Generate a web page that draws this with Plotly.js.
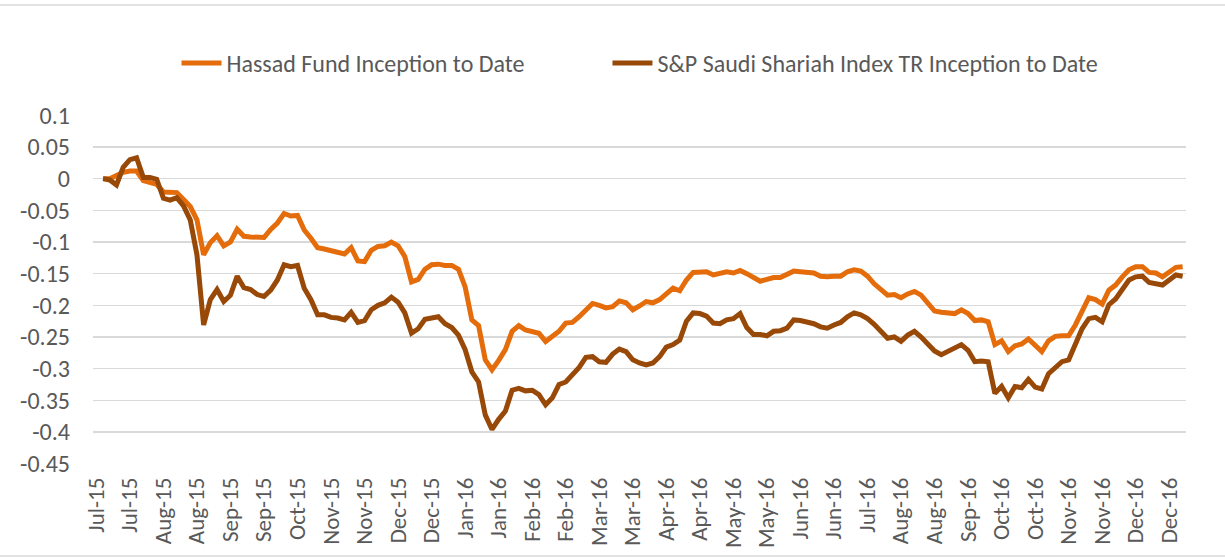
<!DOCTYPE html>
<html>
<head>
<meta charset="utf-8">
<script src="https://cdn.plot.ly/plotly-3.0.1.min.js"></script>
<style>
  html, body { margin: 0; padding: 0; background: #ffffff; }
  #chart { width: 1225px; height: 559px; }
</style>
</head>
<body>
<div id="chart"></div>
<script>
// Category tick labels (one label every 5 categories)
const tickLabels = ["Jul-15","Jul-15","Aug-15","Aug-15","Sep-15","Sep-15","Oct-15","Nov-15","Nov-15","Dec-15","Dec-15",
  "Jan-16","Jan-16","Feb-16","Feb-16","Mar-16","Mar-16","Apr-16","Apr-16","May-16","May-16","Jun-16","Jun-16",
  "Jul-16","Aug-16","Aug-16","Sep-16","Oct-16","Oct-16","Nov-16","Nov-16","Dec-16","Dec-16"];
const labelStep = 5;
const categoryCount = 163;

// Series values (first category empty)
const hassad = [null,
  0, 0, 0.005, 0.01, 0.012, 0.012, -0.003, -0.006, -0.009, -0.021,
  -0.022, -0.022, -0.033, -0.044, -0.065, -0.12, -0.101, -0.09, -0.106, -0.1,
  -0.08, -0.091, -0.092, -0.092, -0.093, -0.08, -0.07, -0.055, -0.059, -0.058,
  -0.081, -0.094, -0.109, -0.111, -0.113, -0.115, -0.119, -0.109, -0.13, -0.131,
  -0.113, -0.107, -0.106, -0.1, -0.106, -0.123, -0.163, -0.159, -0.143, -0.136,
  -0.135, -0.137, -0.137, -0.143, -0.171, -0.223, -0.232, -0.286, -0.302, -0.287,
  -0.27, -0.241, -0.232, -0.239, -0.241, -0.244, -0.257, -0.249, -0.241, -0.228,
  -0.227, -0.218, -0.208, -0.197, -0.2, -0.204, -0.202, -0.193, -0.196, -0.207,
  -0.201, -0.194, -0.196, -0.191, -0.182, -0.173, -0.177, -0.16, -0.148, -0.148,
  -0.147, -0.152, -0.15, -0.147, -0.149, -0.145, -0.15, -0.155, -0.162, -0.159,
  -0.156, -0.156, -0.152, -0.146, -0.147, -0.148, -0.149, -0.154, -0.155, -0.154,
  -0.154, -0.147, -0.144, -0.146, -0.154, -0.166, -0.174, -0.184, -0.183, -0.188,
  -0.182, -0.178, -0.184, -0.198, -0.209, -0.211, -0.213, -0.213, -0.207, -0.213,
  -0.224, -0.223, -0.226, -0.262, -0.256, -0.273, -0.264, -0.261, -0.253, -0.263,
  -0.273, -0.256, -0.249, -0.248, -0.248, -0.231, -0.21, -0.188, -0.191, -0.198,
  -0.176, -0.168, -0.155, -0.144, -0.139, -0.139, -0.148, -0.149, -0.155, -0.148,
  -0.14, -0.139];

const spShariah = [null,
  0, -0.002, -0.01, 0.018, 0.03, 0.033, 0.002, 0.002, -0.001, -0.031,
  -0.034, -0.03, -0.043, -0.065, -0.12, -0.231, -0.191, -0.175, -0.194, -0.184,
  -0.154, -0.172, -0.175, -0.183, -0.186, -0.176, -0.16, -0.136, -0.139, -0.137,
  -0.173, -0.191, -0.215, -0.215, -0.219, -0.22, -0.223, -0.211, -0.227, -0.224,
  -0.207, -0.2, -0.196, -0.187, -0.195, -0.212, -0.244, -0.237, -0.222, -0.219,
  -0.218, -0.229, -0.235, -0.247, -0.27, -0.305, -0.321, -0.373, -0.396, -0.38,
  -0.367, -0.334, -0.331, -0.335, -0.334, -0.341, -0.357, -0.346, -0.325, -0.321,
  -0.31, -0.298, -0.282, -0.281, -0.289, -0.29, -0.277, -0.269, -0.273, -0.286,
  -0.291, -0.294, -0.291, -0.281, -0.266, -0.262, -0.255, -0.225, -0.212, -0.213,
  -0.217, -0.228, -0.229, -0.223, -0.221, -0.213, -0.235, -0.246, -0.246, -0.248,
  -0.241, -0.24, -0.236, -0.223, -0.224, -0.226, -0.229, -0.234, -0.236, -0.231,
  -0.227, -0.218, -0.212, -0.215, -0.221, -0.23, -0.241, -0.252, -0.25, -0.257,
  -0.247, -0.241, -0.25, -0.262, -0.272, -0.278, -0.272, -0.268, -0.262, -0.271,
  -0.289, -0.288, -0.289, -0.339, -0.328, -0.346, -0.328, -0.33, -0.317, -0.329,
  -0.332, -0.308, -0.298, -0.289, -0.286, -0.262, -0.237, -0.221, -0.219, -0.226,
  -0.199, -0.19, -0.176, -0.16, -0.155, -0.154, -0.164, -0.167, -0.168, -0.16,
  -0.152, -0.154];

const yTickVals = [0.1, 0.05, 0, -0.05, -0.1, -0.15, -0.2, -0.25, -0.3, -0.35, -0.4, -0.45];
const yTickText = ["0.1", "0.05", "0", "-0.05", "-0.1", "-0.15", "-0.2", "-0.25", "-0.3", "-0.35", "-0.4", "-0.45"];

const seriesNames = ["Hassad Fund Inception to Date", "S&P Saudi Shariah Index TR Inception to Date"];

const xIdx = Array.from({length: categoryCount}, (_, i) => i);
const tickVals = tickLabels.map((_, k) => k * labelStep);

const FONT = "Carlito, Calibri, Lato, sans-serif";
const GRID = "#d9d9d9";
const yMin = -0.45, yMax = 0.1;
const xRange = [-0.5, categoryCount - 0.5];

const traces = [
  {x: xIdx, y: hassad, name: seriesNames[0], type: "scatter", mode: "lines",
   line: {color: "#E46C0A", width: 5}, connectgaps: false, legend: "legend"},
  {x: xIdx, y: spShariah, name: seriesNames[1], type: "scatter", mode: "lines",
   line: {color: "#984807", width: 5}, connectgaps: false, legend: "legend2"}
];

const zeroPos = (0 - yMin) / (yMax - yMin);
const legendFont = {family: FONT, size: 24, color: "#595959"};

const layout = {
  width: 1225, height: 559,
  margin: {l: 93, r: 39, t: 115, b: 95, pad: 0},
  paper_bgcolor: "#ffffff", plot_bgcolor: "#ffffff",
  font: {family: FONT, color: "#595959", size: 24},
  showlegend: true,
  legend: {orientation: "h", x: 0.0764, xanchor: "left", y: 1.148, yanchor: "middle",
           itemwidth: 40, font: legendFont, bgcolor: "rgba(0,0,0,0)"},
  legend2: {orientation: "h", x: 0.4707, xanchor: "left", y: 1.148, yanchor: "middle",
           itemwidth: 40, font: legendFont, bgcolor: "rgba(0,0,0,0)"},
  xaxis: {range: xRange, tickmode: "array", tickvals: tickVals, ticktext: tickLabels,
          tickangle: -90, ticks: "", showgrid: false, zeroline: false, showline: false,
          tickfont: {family: FONT, size: 23, color: "#595959"}, ticklabelstandoff: 8},
  xaxis2: {overlaying: "x", anchor: "free", position: zeroPos, range: xRange,
           tickmode: "linear", tick0: -0.5, dtick: 1, ticks: "outside", ticklen: 6,
           tickwidth: 1.3, tickcolor: GRID, showline: true, linecolor: GRID, linewidth: 1.3,
           showticklabels: false, showgrid: false, zeroline: false, layer: "below traces"},
  yaxis: {range: [yMin - 0.0005, yMax + 0.0005], tickmode: "array", tickvals: yTickVals, ticktext: yTickText,
          showgrid: true, gridcolor: GRID, gridwidth: 1.3, zeroline: false, showline: false,
          ticks: "", ticklabelstandoff: 22, tickfont: {family: FONT, size: 24, color: "#595959"}},
  shapes: [
    {type: "line", xref: "paper", yref: "paper", x0: -0.1, x1: 1.1, y0: 1.3152, y1: 1.3152,
     line: {color: GRID, width: 1.3}},
    {type: "line", xref: "paper", yref: "paper", x0: -0.1, x1: 1.1, y0: -0.2636, y1: -0.2636,
     line: {color: GRID, width: 1.3}}
  ]
};

Plotly.newPlot("chart", traces, layout, {displayModeBar: false, staticPlot: true});
</script>
</body>
</html>
